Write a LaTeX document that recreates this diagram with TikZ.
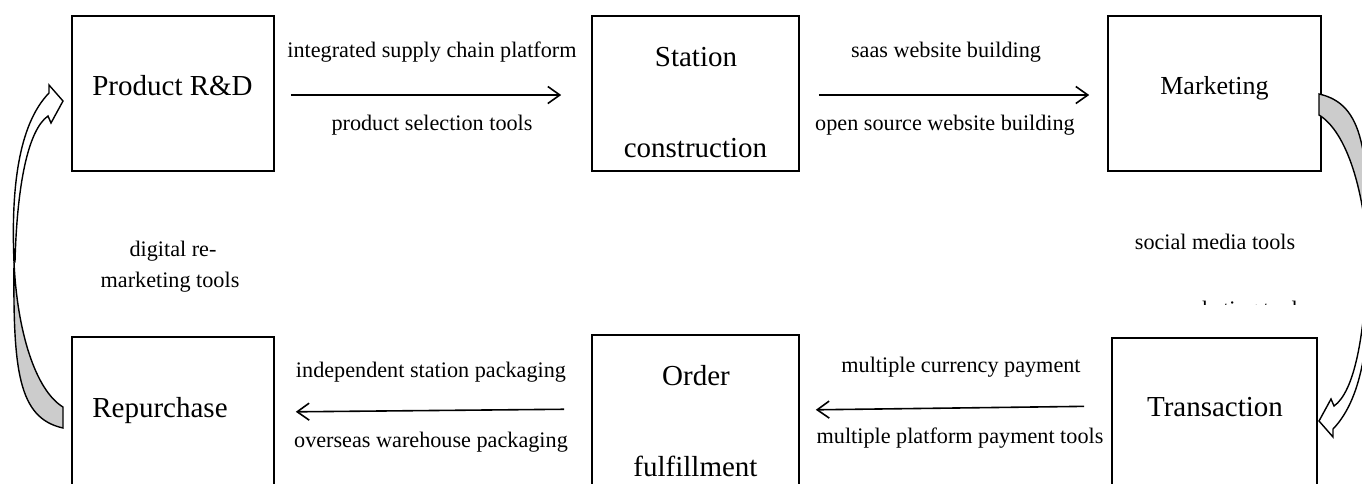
\documentclass[tikz,border=0pt]{standalone}
\usepackage{fontspec}
\setmainfont{Liberation Serif}
\usetikzlibrary{arrows.meta}
\newcommand\cyclearrowshape{%
  \filldraw[fill=white,line width=1.4pt,line join=miter]
    (14,262) .. controls (11,190) and (18,125) .. (49,93)
    -- (49,85) -- (63,101) -- (51,123) -- (48,116)
    .. controls (28,130) and (17,185) .. (15,262) -- cycle;
  \filldraw[fill=gray!40,line width=1.4pt,line join=miter]
    (63,407) .. controls (35,390) and (17,330) .. (14,262)
    .. controls (13,370) and (18,418) .. (63,428) -- cycle;
}
\begin{document}
\begin{tikzpicture}[x=1pt,y=-1pt,
  box/.style={draw,line width=1.6pt,minimum width=#1,minimum height=155pt,inner sep=0pt},
  boxtxt/.style={anchor=base,inner sep=0pt,font=\fontsize{29}{34}\selectfont},
  lbl/.style={anchor=base,inner sep=0pt,font=\fontsize{22.2}{26}\selectfont},
  arr/.style={line width=1.6pt,-{Straight Barb[length=12pt,width=17pt,line width=1.6pt]}}]
\useasboundingbox (0,0) rectangle (1362,483);
\clip (0,0) rectangle (1362,483);
\fill[white] (0,0) rectangle (1362,483);
% boxes
\node[box=202pt] (pr) at (173,93.5) {};
\node[box=207pt] (st) at (695.5,93.5) {};
\node[box=213pt] (mk) at (1214.5,93.5) {};
\node[box=202pt] (rp) at (173,414.5) {};
\node[box=207pt] (of) at (695.5,412.5) {};
\node[box=205pt] (tr) at (1214.5,415.5) {};
% box texts
\node[boxtxt] (prt) at (172.5,95) {Product R\&D};
\node[boxtxt] (stt1) at (696,66) {Station};
\node[boxtxt] (stt2) at (695.5,157) {construction};
\node[boxtxt,font=\fontsize{26}{30}\selectfont] (mkt) at (1214.5,94) {Marketing};
\node[boxtxt] (rpt) at (160,417) {Repurchase};
\node[boxtxt] (oft1) at (696,385) {Order};
\node[boxtxt] (oft2) at (695.5,476) {fulfillment};
\node[boxtxt] (trt) at (1215,416) {Transaction};
% labels
\node[lbl] (l1) at (432,57) {integrated supply chain platform};
\node[lbl] (l2) at (432,130) {product selection tools};
\node[lbl] (l3) at (946,57) {saas website building};
\node[lbl] (l4) at (945,130) {open source website building};
\node[lbl] (l5) at (431,377) {independent station packaging};
\node[lbl] (l6) at (431,447) {overseas warehouse packaging};
\node[lbl] (l7) at (961,372) {multiple currency payment};
\node[lbl] (l8) at (960,443) {multiple platform payment tools};
\node[lbl] (l9) at (173,256) {digital re-};
\node[lbl] (l10) at (170,287) {marketing tools};
\node[lbl] (l11) at (1215,249) {social media tools};
\begin{scope}
  \clip (1100,290) rectangle (1362,304.5);
  \node[lbl] (l12) at (1237,316.5) {marketing tools};
\end{scope}
% straight arrows
\draw[arr,shorten <=16pt,shorten >=30pt] ([yshift=-1.5pt]pr.east) -- ([yshift=-1.5pt]st.west);
\draw[arr,shorten <=19pt,shorten >=18pt] ([yshift=-1.5pt]st.east) -- ([yshift=-1.5pt]mk.west);
\draw[arr,shorten <=27pt,shorten >=21pt] ([yshift=3.5pt]of.west) -- ([yshift=2.5pt]rp.east);
\draw[arr,shorten <=27pt,shorten >=16pt] ([yshift=9.5pt]tr.west) -- ([yshift=2.5pt]of.east);
% curved block arrows
\cyclearrowshape
\begin{scope}[rotate around={180:(691,261)}]
  \cyclearrowshape
\end{scope}
\end{tikzpicture}
\end{document}
